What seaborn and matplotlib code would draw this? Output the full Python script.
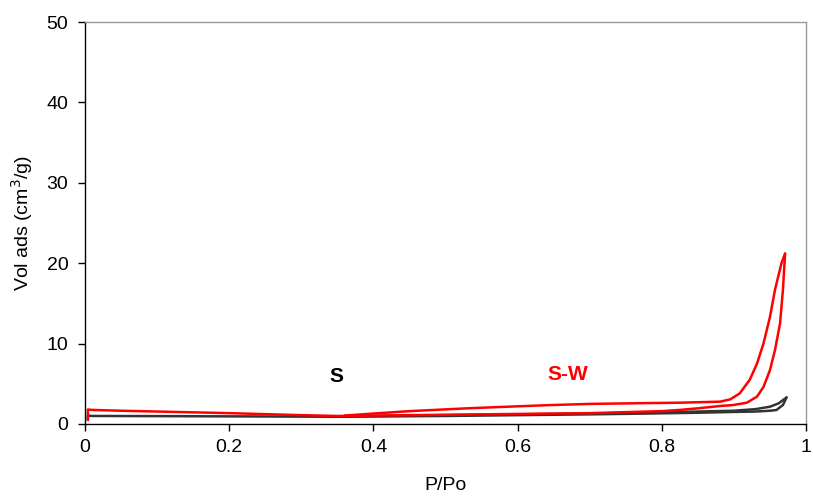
import matplotlib
matplotlib.use("Agg")
import matplotlib.pyplot as plt
import seaborn as sns

sns.set_style("white")
plt.rcParams['font.family'] = ['Liberation Sans', 'DejaVu Sans']
plt.rcParams['text.color'] = 'black'
plt.rcParams['axes.labelcolor'] = 'black'
plt.rcParams['xtick.color'] = 'black'
plt.rcParams['ytick.color'] = 'black'

# Red sample (S-W) adsorption / desorption branches
sw_ads_x = [0.004, 0.004, 0.01, 0.05, 0.1, 0.2, 0.3, 0.35, 0.4, 0.5, 0.6, 0.7, 0.8, 0.825, 0.85,
            0.881, 0.899, 0.918, 0.932, 0.941, 0.950, 0.957, 0.964, 0.968, 0.971]
sw_ads_y = [0.5, 1.8, 1.75, 1.65, 1.55, 1.35, 1.1, 1.0, 1.05, 1.15, 1.25, 1.35, 1.6, 1.75, 1.95,
            2.24, 2.36, 2.65, 3.4, 4.6, 6.7, 9.2, 12.5, 16.7, 21.2]
sw_des_x = [0.971, 0.966, 0.957, 0.950, 0.941, 0.932, 0.922, 0.908, 0.895, 0.881,
            0.825, 0.78, 0.7, 0.645, 0.6, 0.53, 0.45, 0.4, 0.36]
sw_des_y = [21.2, 20.0, 16.7, 13.3, 10.0, 7.5, 5.5, 3.8, 3.07, 2.78,
            2.65, 2.6, 2.5, 2.35, 2.2, 1.95, 1.6, 1.3, 1.05]

# Black sample (S)
s_ads_x = [0.004, 0.004, 0.01, 0.1, 0.2, 0.3, 0.35, 0.5, 0.6, 0.7, 0.78, 0.85, 0.9, 0.93, 0.95,
           0.959, 0.968, 0.973]
s_ads_y = [0.5, 1.05, 1.0, 0.98, 0.95, 0.92, 0.9, 1.0, 1.1, 1.2, 1.3, 1.4, 1.5, 1.55, 1.65,
           1.74, 2.36, 3.3]
s_des_x = [0.973, 0.962, 0.950, 0.93, 0.9, 0.8, 0.7, 0.5, 0.35]
s_des_y = [3.3, 2.57, 2.15, 1.85, 1.65, 1.45, 1.3, 1.1, 0.95]

x_ticks = [0, 0.2, 0.4, 0.6, 0.8, 1]
x_tick_labels = ["0", "0.2", "0.4", "0.6", "0.8", "1"]
y_ticks = [0, 10, 20, 30, 40, 50]

fig = plt.figure(figsize=(8.13, 4.97), dpi=100)
ax = fig.add_axes([85/813, 1-424/497, (806-85)/813, (424-22)/497])

lw = 1.8
for xs, ys in [(s_ads_x, s_ads_y), (s_des_x, s_des_y)]:
    sns.lineplot(x=xs, y=ys, sort=False, estimator=None, color='#333333', lw=lw, ax=ax)
for xs, ys in [(sw_ads_x, sw_ads_y), (sw_des_x, sw_des_y)]:
    sns.lineplot(x=xs, y=ys, sort=False, estimator=None, color='#ff0000', lw=lw, ax=ax)

ax.set_xlim(0, 1)
ax.set_ylim(0, 50)
ax.set_xticks(x_ticks)
ax.set_xticklabels(x_tick_labels)
ax.set_yticks(y_ticks)
ax.tick_params(axis='both', direction='out', length=5, width=1, color='black',
               labelsize=14, bottom=True, left=True)
ax.tick_params(axis='x', pad=6)
ax.tick_params(axis='y', pad=7)
for side in ['left', 'bottom']:
    ax.spines[side].set_color('black')
    ax.spines[side].set_linewidth(1)
for side in ['top', 'right']:
    ax.spines[side].set_color('#999999')
    ax.spines[side].set_linewidth(1)

ax.set_xlabel("P/Po", fontsize=14, labelpad=15)
ax.set_ylabel("Vol ads (cm$^3$/g)", fontsize=14, labelpad=8)

ax.text(0.349, 5.85, "S", fontsize=15, fontweight='bold', color='black', ha='center', va='center')
ax.text(0.669, 6.1, "S-W", fontsize=15, fontweight='bold', color='#ff0000', ha='center', va='center')

fig.savefig("out.png", dpi=100)
